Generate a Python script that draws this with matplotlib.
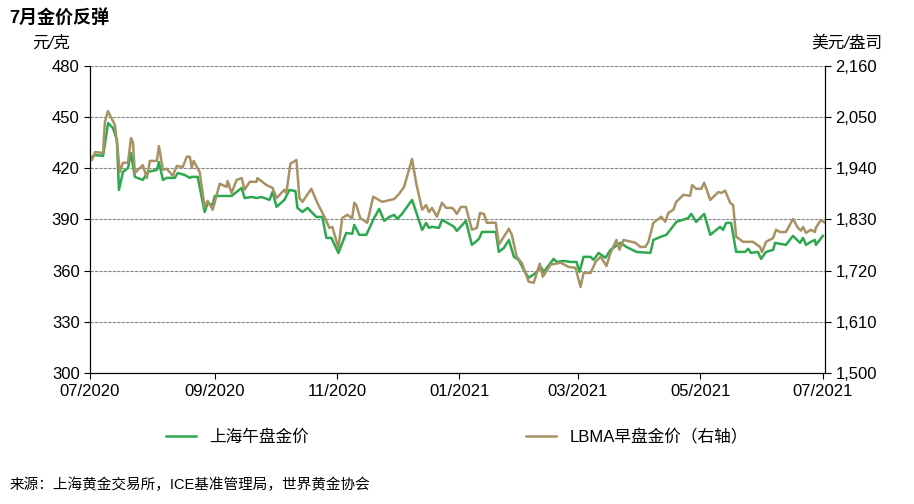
import matplotlib
matplotlib.use("Agg")
import matplotlib.pyplot as plt
import matplotlib.dates as mdates
import matplotlib.ticker as mticker
import pandas as pd

plt.rcParams['font.family'] = ['Liberation Sans', 'Noto Sans CJK SC', 'DejaVu Sans']

start = pd.Timestamp("2020-07-01")
sh_days = [1,2.5,6.5,9,11.4,13.4,14.4,16.4,18.9,20.4,22.3,26.3,28.8,33.3,34.3,36.3,38.2,42.2,43.7,47.2,49.7,50.7,53.6,57.1,58.6,61.1,62.1,70.5,75.5,77,80.4,82.9,85.4,89.4,90.9,92.9,96.8,99.3,102.3,103.3,105.8,108.3,112.7,115.7,117.7,120.2,123.7,127.6,130.6,131.6,134.1,137.6,141.5,144,146.5,149,151.5,153,155.4,160.4,165.4,167.4,168.8,170.3,173.8,175.3,179.8,
           181.3,182.7,187.2,190.2,193.7,195.2,202.1,203.6,206.1,208.6,211.1,213.5,216,218.5,222,224.5,226,230.9,232.4,235.9,239.4,242.3,243.8,245.8,249.3,250.8,253.3,256.7,259.2,264.2,267.2,272.1,279.1,280.6,284.1,287,289,292,298,299.4,301.9,305.9,308.9,313.8,315.3,316.8,319.3,321.8,326.3,327.8,329.2,332.7,334.2,336.7,340.2,341.2,346.6,350.1,353.6,355.1,356.6,359,361,361.5,365]
sh_vals = [426.7,427.8,427.3,446.6,443.7,436.6,407.3,417.9,420.2,429,415,413.2,417.9,419.1,423.7,413.2,414.4,414.4,417.3,416.1,414.4,415,415,394.4,399.7,398.5,403.8,403.8,408.5,402.6,403.2,402.6,403.2,401.5,406.2,397.4,401.5,407.3,406.7,396.8,394.4,396.8,391.5,391.5,379.2,379.2,370.4,382.1,381.6,386.8,381,381,390.9,396.2,389.2,391.5,392.7,390.3,393.3,401.5,383.9,388,385.1,385.7,385.1,389.8,386.8,
           385.7,383.3,389.2,375.1,378.6,382.7,382.7,371,373.3,378,368.1,366.3,360.5,355.8,358.7,362.2,359.3,366.9,365.1,365.7,365.1,365.1,359.3,368.1,368.1,366.3,370.4,367.5,372.2,376.3,373.9,371,370.4,378,379.8,381,383.9,388.6,390.9,393.3,388.6,393.3,381,385.7,383.9,388,388,371,371,372.8,370.4,371,366.9,371,372.2,376.3,375.1,380.4,376.3,379.2,375.1,376.9,378,375.1,380.4]

lb_days = [1,2.5,6.5,7.4,8.9,12.4,13.4,14.9,16.4,18.9,20.4,21.4,22.3,26.3,28.3,29.8,33.3,34.3,36.3,38.2,41.2,43.2,46.2,48.2,49.7,50.7,51.6,54.6,57.1,58.6,61.1,64.6,68,68.5,70.5,73,75.5,77,79.5,82.9,83.4,87.9,90.9,92.9,96.8,97.8,99.8,102.8,104.3,105.8,110.2,113.2,116.7,119.2,120.7,123.7,125.6,128.1,130.6,131.6,132.6,134.6,138.1,141,143,145.5,151.5,153.9,156.4,160.4,162.4,165.4,167.4,168.8,170.3,172.8,175.3,177.3,180.3,
           181.3,182.7,184.7,187.2,190.2,192.7,194.2,196.2,197.6,202.1,203.6,208.6,210.1,212.5,215,218.5,221,224,225.5,229.4,234.4,238.4,241.8,244.3,245.8,249.3,251.8,254.3,257.2,259.2,262.2,263.7,265.7,271.6,274.1,276.6,278.1,280.6,284.5,286.5,288,290.5,292,295.5,298.9,299.9,301.9,304.4,305.9,308.9,312.9,314.4,316.3,318.8,320.3,321.8,325.3,330.2,333.7,334.7,336.7,340.2,341.7,343.6,346.6,350.1,352.6,354.1,355.1,356.6,359,361,361.5,364,366]
lb_vals = [1958,1975,1973,2040,2063,2033,1995,1932,1952,1952,2005,1995,1930,1947,1919,1956,1956,1988,1937,1939,1924,1945,1943,1965,1965,1941,1956,1932,1857,1870,1851,1907,1900,1913,1887,1915,1919,1894,1911,1911,1919,1904,1898,1876,1894,1887,1950,1958,1876,1868,1896,1866,1836,1812,1814,1769,1833,1840,1833,1866,1861,1833,1823,1879,1874,1868,1874,1885,1900,1960,1909,1851,1861,1846,1855,1836,1866,1855,1855,
           1851,1842,1857,1857,1808,1812,1844,1842,1823,1823,1776,1810,1797,1750,1737,1696,1694,1735,1707,1733,1737,1728,1726,1685,1715,1715,1739,1750,1730,1758,1786,1765,1786,1780,1771,1771,1782,1823,1836,1825,1844,1851,1868,1883,1881,1904,1896,1896,1909,1872,1889,1887,1892,1866,1861,1793,1782,1782,1771,1760,1782,1790,1808,1803,1803,1831,1812,1806,1814,1801,1808,1803,1812,1829,1823]

sh_dates = [start + pd.Timedelta(days=d) for d in sh_days]
lb_dates = [start + pd.Timedelta(days=d) for d in lb_days]

green = '#2EA84F'
gold = '#A89264'

fig = plt.figure(figsize=(9.14, 5.04), dpi=100)
ax = fig.add_axes([0.0985, 0.26, 0.804, 0.609])
ax2 = ax.twinx()

l1, = ax.plot(sh_dates, sh_vals, color=green, lw=1.8, label='上海午盘金价')
l2, = ax2.plot(lb_dates, lb_vals, color=gold, lw=1.8, label='LBMA早盘金价（右轴）')
ax2.set_zorder(1)

ax.set_ylim(300, 480)
ax.set_yticks(range(300, 481, 30))
ax2.set_ylim(1500, 2160)
ax2.set_yticks(range(1500, 2161, 110))
ax2.yaxis.set_major_formatter(mticker.FuncFormatter(lambda v, p: f'{int(v):,}'))
ax.set_xlim(start, start + pd.Timedelta(days=366))
ax.xaxis.set_major_locator(mdates.MonthLocator(bymonth=[1, 3, 5, 7, 9, 11]))
ax.xaxis.set_major_formatter(mdates.DateFormatter('%m/%Y'))
ax.grid(axis='y', color='#888888', lw=0.8, ls=(0, (3, 1)))
for a in (ax, ax2):
    a.spines['top'].set_visible(False)
    a.tick_params(labelsize=12, direction='out', length=4)
ax.tick_params(axis='x', pad=4)

fig.text(0.01, 0.955, '7月金价反弹', fontsize=13, fontweight='bold')
fig.text(0.035, 0.905, '元/克', fontsize=12, style='italic')
fig.text(0.965, 0.905, '美元/盎司', fontsize=12, style='italic', ha='right')
fig.legend(handles=[l1, l2], loc='center', bbox_to_anchor=(0.5, 0.133), ncol=2, frameon=False,
           fontsize=12, handlelength=1.8, columnspacing=13)
fig.text(0.01, 0.03, '来源：上海黄金交易所，ICE基准管理局，世界黄金协会', fontsize=10.5)

fig.savefig('out.png', dpi=100)
